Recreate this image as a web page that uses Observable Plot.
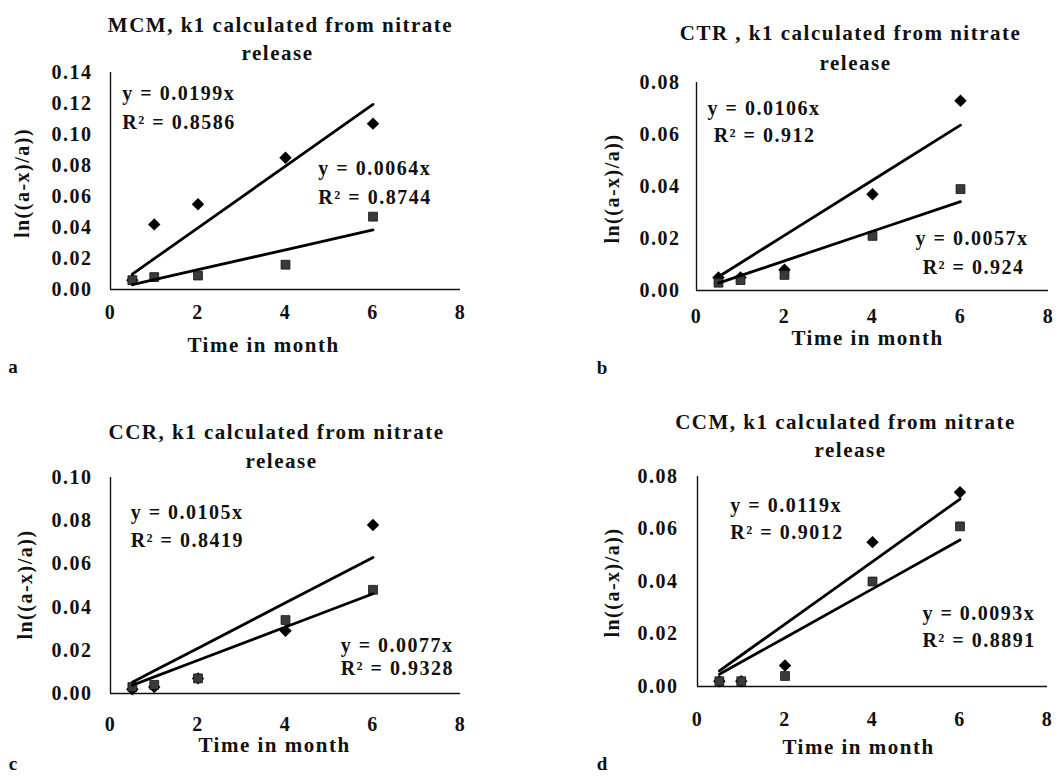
<!DOCTYPE html>
<html>
<head>
<meta charset="utf-8">
<script src="https://cdn.jsdelivr.net/npm/d3@7"></script>
<script src="https://cdn.jsdelivr.net/npm/@observablehq/plot@0.6"></script>
<style>
  body { margin: 0; background: #fff; }
  #wrap { position: relative; width: 1062px; height: 776px; overflow: hidden; background: #fff;
          font-family: "Liberation Serif", "Times New Roman", serif; font-weight: bold; color: #111; }
  .panel { position: absolute; }
  .letter { position: absolute; font-size: 19px; line-height: 1; transform: translate(-50%, -50%); }
</style>
</head>
<body>
<div id="wrap"></div>
<script>
// ---------------- DATA ----------------
const months = [0.5, 1, 2, 4, 6];
const panelLetters = ["a", "b", "c", "d"];
const sampleNames = ["MCM", "CTR ", "CCR", "CCM"];
const titleRest = ", k1 calculated from nitrate";
const titleLine2 = "release";
const xLabel = "Time in month";
const yLabel = "ln((a-x)/a))";

// series 1 (diamonds)
const diamondsA = [0.006, 0.042, 0.055, 0.085, 0.107];
const diamondsB = [0.005, 0.005, 0.008, 0.037, 0.073];
const diamondsC = [0.002, 0.003, 0.007, 0.029, 0.078];
const diamondsD = [0.002, 0.002, 0.008, 0.055, 0.074];
// series 2 (squares)
const squaresA = [0.006, 0.008, 0.009, 0.016, 0.047];
const squaresB = [0.003, 0.004, 0.006, 0.021, 0.039];
const squaresC = [0.003, 0.004, 0.007, 0.034, 0.048];
const squaresD = [0.002, 0.002, 0.004, 0.040, 0.061];

// trend-line equations shown on the chart
const slopes1 = ["0.0199", "0.0106", "0.0105", "0.0119"];
const rsq1    = ["0.8586", "0.912", "0.8419", "0.9012"];
const slopes2 = ["0.0064", "0.0057", "0.0077", "0.0093"];
const rsq2    = ["0.8744", "0.924", "0.9328", "0.8891"];

// fitted trend-line values at the sampled months
const trend1A = [0.00995, 0.0199, 0.0398, 0.0796, 0.1194];
const trend2A = [0.0032, 0.0064, 0.0128, 0.0256, 0.0384];
const trend1B = [0.0053, 0.0106, 0.0212, 0.0424, 0.0636];
const trend2B = [0.00285, 0.0057, 0.0114, 0.0228, 0.0342];
const trend1C = [0.00525, 0.0105, 0.021, 0.042, 0.063];
const trend2C = [0.00385, 0.0077, 0.0154, 0.0308, 0.0462];
const trend1D = [0.00595, 0.0119, 0.0238, 0.0476, 0.0714];
const trend2D = [0.00465, 0.0093, 0.0186, 0.0372, 0.0558];

// axes
const xTicks = [0, 2, 4, 6, 8];
const yTicksA = [0, 0.02, 0.04, 0.06, 0.08, 0.10, 0.12, 0.14];
const yTicksB = [0, 0.02, 0.04, 0.06, 0.08];
const yTicksC = [0, 0.02, 0.04, 0.06, 0.08, 0.10];
const yTicksD = [0, 0.02, 0.04, 0.06, 0.08];

// ---------------- LAYOUT ----------------
const diamonds = [diamondsA, diamondsB, diamondsC, diamondsD];
const squares = [squaresA, squaresB, squaresC, squaresD];
const trends1 = [trend1A, trend1B, trend1C, trend1D];
const trends2 = [trend2A, trend2B, trend2C, trend2D];
const yTicks = [yTicksA, yTicksB, yTicksC, yTicksD];

const layout = [
  {left: 0,   top: 0,   w: 530, h: 388, ml: 110, mr: 70, mt: 72, mb: 99, xpad: 15, ypad: 18,
   xt: [-22, 56], yt: [-88, 2], t1: [-5, -47], t2: [-8, -19],
   e1: [0.27, 0.1265], r1: [0.27, 0.1077], e2: [4.75, 0.078], r2: [4.75, 0.0594],
   letter: [13, 366]},
  {left: 531, top: 0,   w: 531, h: 388, ml: 165, mr: 14, mt: 82, mb: 98, xpad: 18, ypad: 16,
   xt: [-5, 48], yt: [-84, 2], t1: [-22, -49], t2: [-17, -19],
   e1: [0.25, 0.070], r1: [0.39, 0.0596], e2: [4.98, 0.020], r2: [5.14, 0.0088],
   letter: [602, 367]},
  {left: 0,   top: 388, w: 530, h: 388, ml: 110, mr: 70, mt: 89, mb: 83, xpad: 23, ypad: 18,
   xt: [-11, 52], yt: [-85, -1], t1: [-9, -45], t2: [-4, -16],
   e1: [0.46, 0.0838], r1: [0.46, 0.0708], e2: [5.26, 0.0222], r2: [5.26, 0.0116],
   letter: [13, 763]},
  {left: 531, top: 388, w: 531, h: 388, ml: 166, mr: 15, mt: 88, mb: 90, xpad: 25, ypad: 19,
   xt: [-14, 61], yt: [-85, 1], t1: [-27, -54], t2: [-22, -26],
   e1: [0.75, 0.069], r1: [0.75, 0.0587], e2: [5.14, 0.0278], r2: [5.14, 0.0175],
   letter: [602, 763]}
];

const wrap = document.getElementById("wrap");

for (let i = 0; i < 4; i++) {
  const L = layout[i];
  const yMax = yTicks[i][yTicks[i].length - 1];
  const s1 = months.map((m, k) => ({x: m, y: diamonds[i][k]}));
  const s2 = months.map((m, k) => ({x: m, y: squares[i][k]}));
  const t1 = months.map((m, k) => ({x: m, y: trends1[i][k]}));
  const t2 = months.map((m, k) => ({x: m, y: trends2[i][k]}));

  const chart = Plot.plot({
    width: L.w, height: L.h,
    marginLeft: L.ml, marginRight: L.mr, marginTop: L.mt, marginBottom: L.mb,
    x: {domain: [0, 8]},
    y: {domain: [0, yMax]},
    style: {fontFamily: "'Liberation Serif', 'Times New Roman', serif", fontWeight: "bold",
            fontSize: "20px", letterSpacing: "1.5px", color: "#111", background: "transparent",
            overflow: "visible"},
    marks: [
      Plot.axisX({ticks: xTicks, tickSize: 0, tickPadding: L.xpad, label: null, tickFormat: d => String(d), fontSize: 20}),
      Plot.axisY({ticks: yTicks[i], tickSize: 0, tickPadding: L.ypad, label: null, tickFormat: d3.format(".2f"), fontSize: 20}),
      Plot.ruleY([0], {stroke: "#111", strokeWidth: 1.4}),
      Plot.ruleX([0], {stroke: "#111", strokeWidth: 1.4}),
      Plot.dot(s1, {x: "x", y: "y", symbol: "diamond2", r: 5.6, fill: "#000", stroke: "none"}),
      Plot.dot(s2, {x: "x", y: "y", symbol: "square", r: 5, fill: "#3a3a3a", stroke: "#111", strokeWidth: 0.8}),
      Plot.line(t1, {x: "x", y: "y", stroke: "#000", strokeWidth: 2.8}),
      Plot.line(t2, {x: "x", y: "y", stroke: "#000", strokeWidth: 2.8}),
      Plot.text([`y = ${slopes1[i]}x`], {x: L.e1[0], y: L.e1[1], text: d => d, textAnchor: "start", lineAnchor: "middle", fontSize: 20}),
      Plot.text([`R² = ${rsq1[i]}`], {x: L.r1[0], y: L.r1[1], text: d => d, textAnchor: "start", lineAnchor: "middle", fontSize: 20}),
      Plot.text([`y = ${slopes2[i]}x`], {x: L.e2[0], y: L.e2[1], text: d => d, textAnchor: "start", lineAnchor: "middle", fontSize: 20}),
      Plot.text([`R² = ${rsq2[i]}`], {x: L.r2[0], y: L.r2[1], text: d => d, textAnchor: "start", lineAnchor: "middle", fontSize: 20}),
      Plot.text([sampleNames[i] + titleRest], {frameAnchor: "top", dx: L.t1[0], dy: L.t1[1], text: d => d, lineAnchor: "middle", fontSize: 21}),
      Plot.text([titleLine2], {frameAnchor: "top", dx: L.t2[0], dy: L.t2[1], text: d => d, lineAnchor: "middle", fontSize: 21}),
      Plot.text([xLabel], {frameAnchor: "bottom", dx: L.xt[0], dy: L.xt[1], text: d => d, lineAnchor: "middle", fontSize: 21}),
      Plot.text([yLabel], {frameAnchor: "left", dx: L.yt[0], dy: L.yt[1], text: d => d, rotate: -90, lineAnchor: "middle", textAnchor: "middle", fontSize: 20})
    ]
  });
  chart.classList.add("panel");
  chart.style.left = L.left + "px";
  chart.style.top = L.top + "px";
  wrap.appendChild(chart);

  const lt = document.createElement("div");
  lt.className = "letter";
  lt.textContent = panelLetters[i];
  lt.style.left = L.letter[0] + "px";
  lt.style.top = L.letter[1] + "px";
  wrap.appendChild(lt);
}
</script>
</body>
</html>
